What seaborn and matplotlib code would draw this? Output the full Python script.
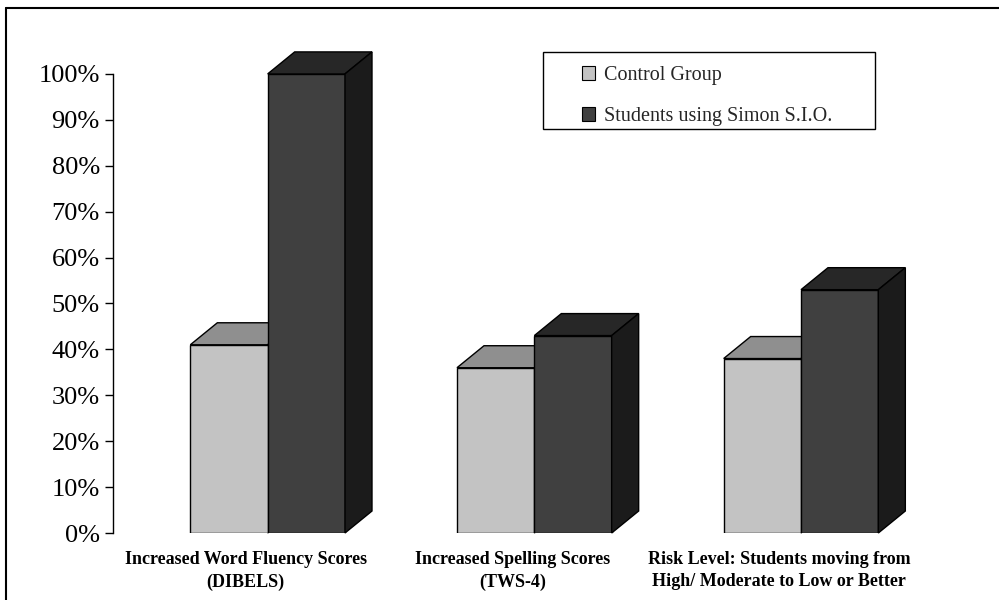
import matplotlib
matplotlib.use("Agg")
import matplotlib.pyplot as plt
import matplotlib.transforms as mtransforms
from matplotlib.patches import Polygon, Rectangle, Patch
from matplotlib.lines import Line2D
import pandas as pd
import seaborn as sns

# Data (percent)
categories = ["Increased Word Fluency Scores\n(DIBELS)",
              "Increased Spelling Scores\n(TWS-4)",
              "Risk Level: Students moving from\nHigh/ Moderate to Low or Better"]
groups = ["Control Group", "Students using Simon S.I.O."]
control_values = [41, 36, 38]
simon_values = [100, 43, 53]
y_ticks = list(range(0, 101, 10))

df = pd.DataFrame({
    "Category": categories * 2,
    "Group": [groups[0]] * len(categories) + [groups[1]] * len(categories),
    "Value": control_values + simon_values,
})

front_colors = {groups[0]: "#c3c3c3", groups[1]: "#404040"}
top_colors = ["#8f8f8f", "#272727"]
side_colors = ["#7c7c7c", "#1b1b1b"]

sns.set_style("white")
plt.rcParams["font.family"] = ["Liberation Serif", "DejaVu Serif"]

fig = plt.figure(figsize=(9.99, 6.0), dpi=100)
ax = fig.add_axes([113 / 999, 67 / 600, (985 - 113) / 999, 505 / 600])

sns.barplot(data=df, x="Category", y="Value", hue="Group", palette=front_colors,
            width=0.58, edgecolor="black", linewidth=1, saturation=1,
            legend=False, ax=ax)
ax.set_xlim(-0.58, 2.69)
ax.set_ylim(0, 110)

# 3D look: top and side faces built from the seaborn bar patches
dx, dy = 27, 22  # depth offset in pixels
inv = ax.transData.inverted()
bars = sorted(ax.patches, key=lambda p: p.get_x())
for i, bar in enumerate(bars):
    hue_idx = i % 2
    x0, y0 = bar.get_x(), bar.get_y()
    x1, y1 = x0 + bar.get_width(), y0 + bar.get_height()
    (px0, py0), (px1, py1) = ax.transData.transform([(x0, y0), (x1, y1)])
    top = inv.transform([(px0, py1), (px1, py1), (px1 + dx, py1 + dy), (px0 + dx, py1 + dy)])
    side = inv.transform([(px1, py0), (px1 + dx, py0 + dy), (px1 + dx, py1 + dy), (px1, py1)])
    z = 0.5 if hue_idx == 0 else 2
    ax.add_patch(Polygon(top, closed=True, facecolor=top_colors[hue_idx],
                         edgecolor="black", linewidth=1, zorder=z, clip_on=False))
    ax.add_patch(Polygon(side, closed=True, facecolor=side_colors[hue_idx],
                         edgecolor="black", linewidth=1, zorder=z, clip_on=False))

# Axes styling
for s in ["top", "right", "bottom"]:
    ax.spines[s].set_visible(False)
ax.spines["left"].set_bounds(0, 100)
ax.spines["left"].set_color("black")
ax.spines["left"].set_linewidth(1)
ax.set_yticks(y_ticks)
ax.set_yticklabels([f"{v}%" for v in y_ticks])
ax.tick_params(axis="y", left=True, length=6, width=1, color="black",
               labelsize=19, labelcolor="black", pad=3.5)
ax.tick_params(axis="x", length=0, pad=13, labelcolor="black")
ax.set_xlabel("")
ax.set_ylabel("")

offset = mtransforms.ScaledTranslation(-0.22, 0, fig.dpi_scale_trans)
for lab in ax.get_xticklabels():
    lab.set_fontsize(13)
    lab.set_fontweight("bold")
    lab.set_linespacing(1.4)
    lab.set_transform(lab.get_transform() + offset)

# Legend with its own box
handles = [Patch(facecolor=front_colors[g], edgecolor="black", linewidth=0.8) for g in groups]
fig.legend(handles, groups, loc="upper left", bbox_to_anchor=(582 / 999, 1 - 66 / 600),
           frameon=False, fontsize=14.5, handlelength=0.65, handleheight=0.65,
           handletextpad=0.45, labelspacing=1.1, borderpad=0, borderaxespad=0)
fig.add_artist(Rectangle((543 / 999, 1 - 129 / 600), (875 - 543) / 999, 77 / 600,
                         transform=fig.transFigure, fill=False, edgecolor="black",
                         linewidth=1))

# Outer frame (left and top edges only)
fig.add_artist(Line2D([6 / 999, 6 / 999], [0, 1 - 8 / 600], transform=fig.transFigure,
                      color="black", linewidth=1.5))
fig.add_artist(Line2D([6 / 999, 1], [1 - 8 / 600, 1 - 8 / 600], transform=fig.transFigure,
                      color="black", linewidth=1.5))

fig.savefig("out.png", dpi=100)
